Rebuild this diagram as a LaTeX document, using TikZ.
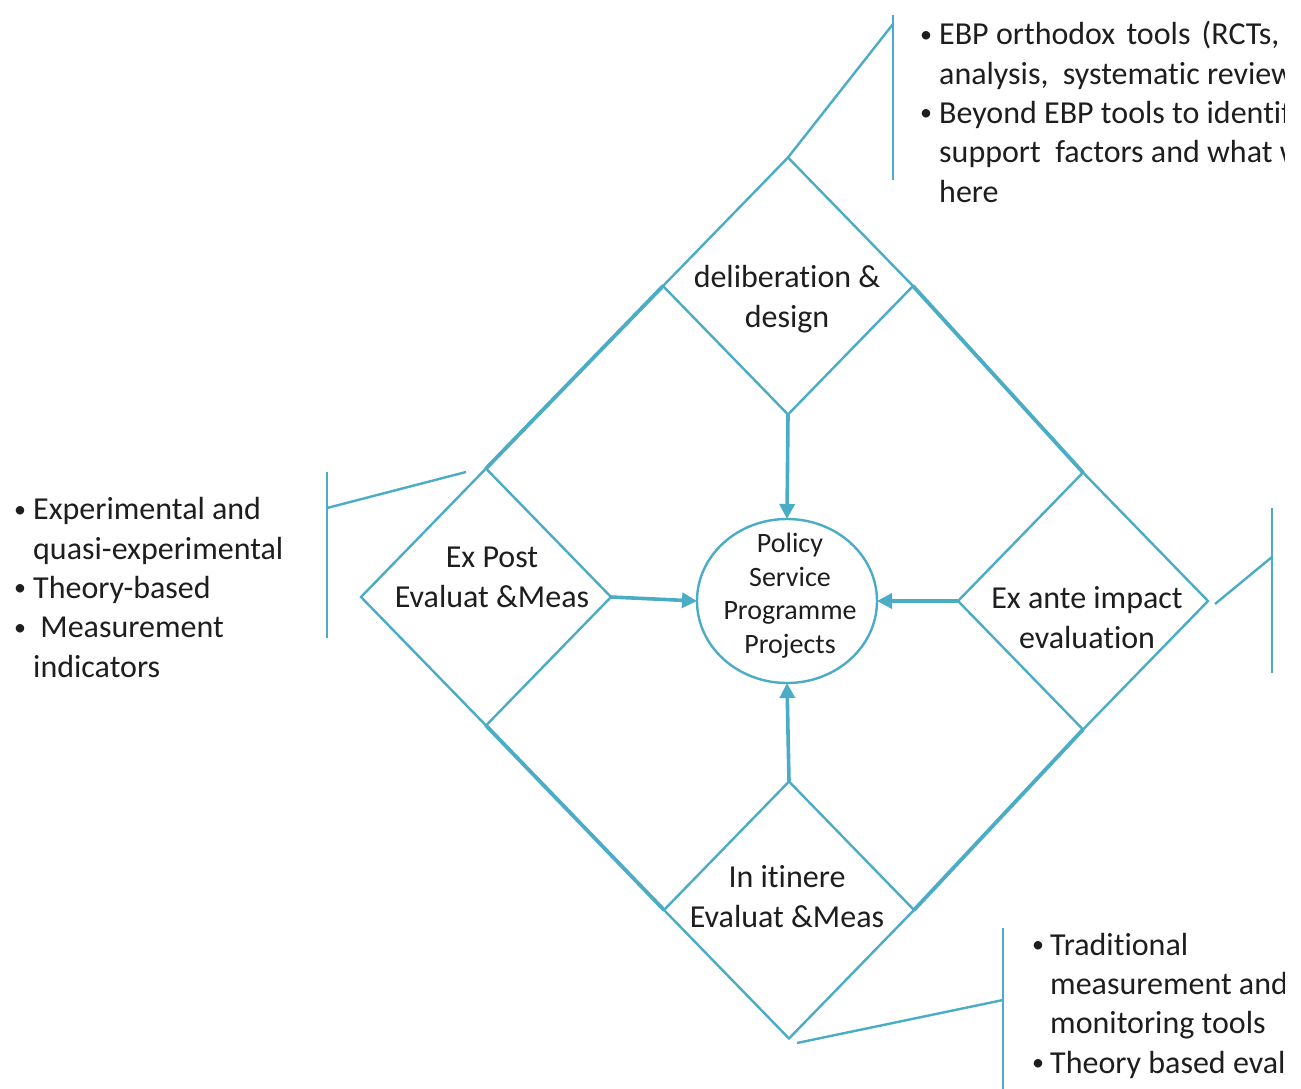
\documentclass[tikz,border=0pt]{standalone}
\usepackage{fontspec}
\setmainfont{Carlito}[Ligatures=NoCommon]
\usetikzlibrary{shapes.geometric,arrows.meta}
\definecolor{aqua}{HTML}{4BACC6}
\definecolor{ink}{HTML}{1E1E1E}
\newcommand\smallbul{\raisebox{2.6pt}{\fontsize{24}{24}\selectfont\textbullet}}
\newcommand\bul{\makebox[19pt][l]{\smallbul}}
\newcommand\hng{\hspace*{19pt}}
\newcommand\wsp{\ \hspace{4pt}}
\begin{document}
\begin{tikzpicture}[x=1pt,y=-1pt,
  dia/.style={draw=aqua, line width=2.4pt, diamond, minimum width=250pt, minimum height=257pt, inner sep=0pt, outer sep=0pt},
  hubshape/.style={draw=aqua, line width=2.4pt, ellipse, minimum width=180pt, minimum height=164pt, inner sep=0pt, outer sep=0pt},
  outerline/.style={draw=aqua, line width=3.8pt, line cap=round},
  flow/.style={draw=aqua, line width=3.6pt, -{Triangle[length=15pt,width=15pt]}},
  calloutline/.style={draw=aqua, line width=2.4pt},
  lbl/.style={font=\fontsize{32}{39.3}\selectfont, text=ink, align=center, inner sep=0pt, anchor=base},
  bullets/.style={font=\fontsize{32}{39.3}\selectfont, text=ink, align=left, inner sep=0pt, anchor=base west},
  ctext/.style={font=\fontsize{28}{33.5}\selectfont, text=ink, align=center, inner sep=0pt, anchor=base}]
\useasboundingbox (0,0) rectangle (1301,1089);
\fill[white] (0,0) rectangle (1301,1089);
\clip (0,0) rectangle (1301,1089);

% diamonds
\node[dia] (topd) at (788,286) {};
\node[dia] (leftd) at (486,597) {};
\node[dia] (rightd) at (1083,601) {};
\node[dia] (botd) at (789,910) {};
\node[hubshape] (hub) at (787,601) {};

% outer frame
\draw[outerline] (topd.west) -- (leftd.north);
\draw[outerline] (topd.east) -- (rightd.north);
\draw[outerline] (leftd.south) -- (botd.west);
\draw[outerline] (rightd.south) -- (botd.east);

% arrows
\draw[flow] (topd.south) -- (hub.north);
\draw[flow] (leftd.east) -- (hub.west);
\draw[flow] (rightd.west) -- (hub.east);
\draw[flow] (botd.north) -- (hub.south);

% labels (anchor = baseline of last line)
\node[lbl] (toptext) at (787,327) {deliberation \&\\design};
\node[lbl] (lefttext) at (492,607) {Ex Post\\Evaluat \&Meas};
\node[lbl] (righttext) at (1087,648) {Ex ante impact\\evaluation};
\node[lbl] (bottext) at (787,927) {In itinere\\Evaluat \&Meas};
\node[ctext] (hubtext) at (790,653) {Policy\\Service\\Programme\\Projects};

% callouts
\coordinate (tA) at (893,15);
\coordinate (tB) at (893,180);
\coordinate (tJ) at (893,24);
\draw[calloutline] (tA) -- (tB);
\draw[calloutline] (topd.north) -- (tJ);

\coordinate (lA) at (327,472);
\coordinate (lB) at (327,638);
\coordinate (lJ) at (327,508);
\coordinate (lE) at (466,472);
\draw[calloutline] (lA) -- (lB);
\draw[calloutline] (lJ) -- (lE);

\coordinate (rA) at (1272,508);
\coordinate (rB) at (1272,673);
\coordinate (rJ) at (1272,557);
\coordinate (rE) at (1215,604);
\draw[calloutline] (rA) -- (rB);
\draw[calloutline] (rJ) -- (rE);

\coordinate (bA) at (1003,928);
\coordinate (bB) at (1003,1095);
\coordinate (bJ) at (1003,1000);
\coordinate (bE) at (797,1043);
\draw[calloutline] (bA) -- (bB);
\draw[calloutline] (bJ) -- (bE);

% bullet texts (anchor = baseline of last line)
\node[bullets] (leftlist) at (14,677) {\bul Experimental and\\\hng quasi-experimental\\\bul Theory-based\\\bul\ Measurement\\\hng indicators};
% the reference crops these two lists at its right edge
\begin{scope}
\clip (0,0) rectangle (1284,1089);
\node[bullets] (toplist) at (920,202) {\bul EBP orthodox\wsp tools\wsp (RCTs,\\\hng analysis,\ \ systematic reviews\\\bul Beyond EBP tools to identify\\\hng support\ \ factors and what works\\\hng here};
\node[bullets] (botlist) at (1032,1073) {\makebox[18pt][l]{\smallbul}Traditional\\\hspace*{18pt}measurement and\\\hspace*{18pt}monitoring tools\\\makebox[18pt][l]{\smallbul}Theory based evaluation};
\end{scope}
\end{tikzpicture}
\end{document}
